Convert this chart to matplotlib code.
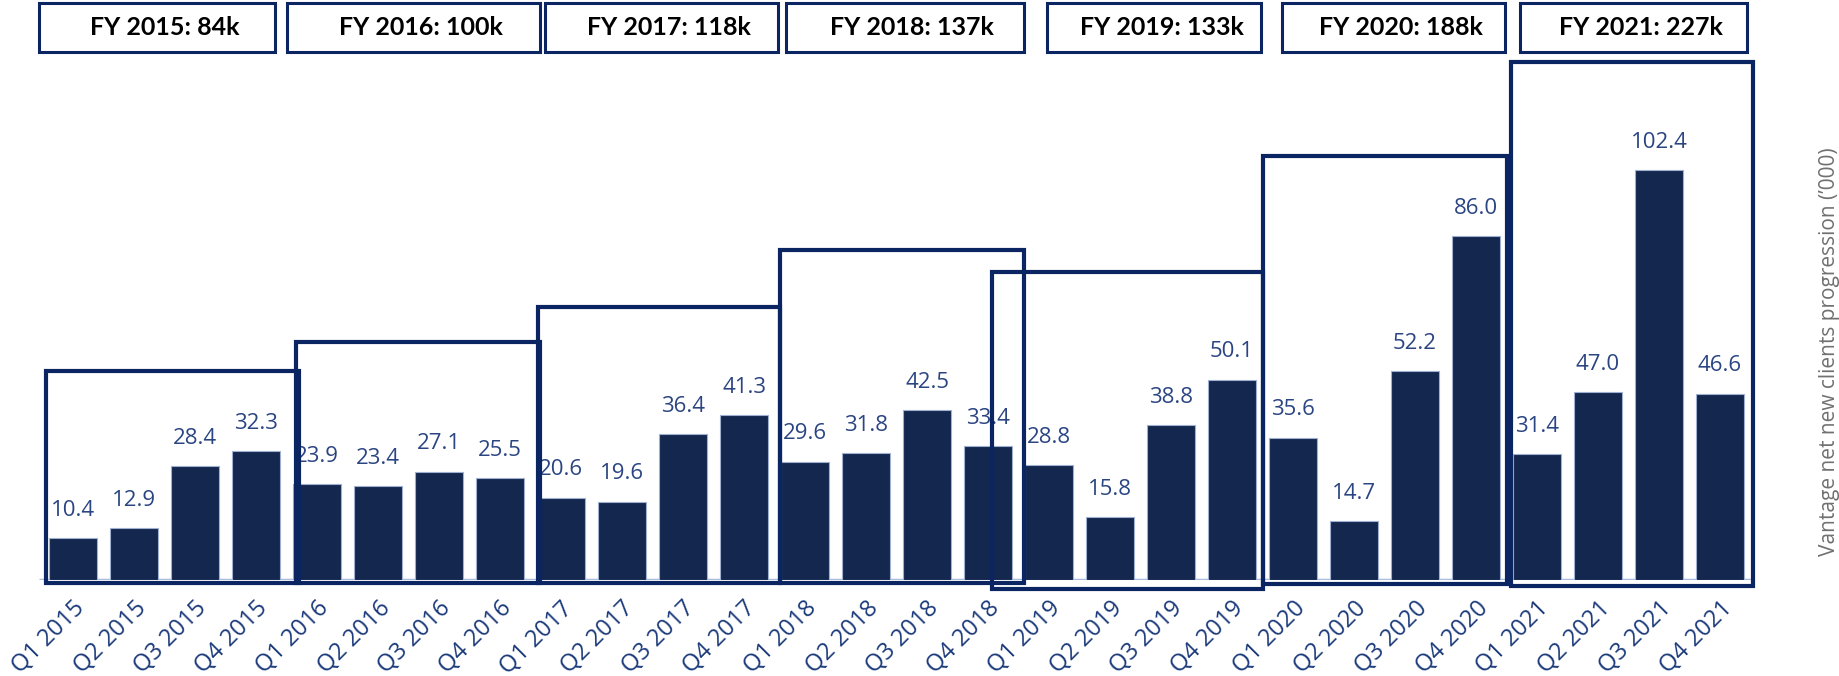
import matplotlib.pyplot as plt
from matplotlib.patches import Rectangle

plt.rcParams['font.family'] = ['Open Sans', 'DejaVu Sans']

quarters = ['Q1 2015', 'Q2 2015', 'Q3 2015', 'Q4 2015',
            'Q1 2016', 'Q2 2016', 'Q3 2016', 'Q4 2016',
            'Q1 2017', 'Q2 2017', 'Q3 2017', 'Q4 2017',
            'Q1 2018', 'Q2 2018', 'Q3 2018', 'Q4 2018',
            'Q1 2019', 'Q2 2019', 'Q3 2019', 'Q4 2019',
            'Q1 2020', 'Q2 2020', 'Q3 2020', 'Q4 2020',
            'Q1 2021', 'Q2 2021', 'Q3 2021', 'Q4 2021']
values = [10.4, 12.9, 28.4, 32.3,
          23.9, 23.4, 27.1, 25.5,
          20.6, 19.6, 36.4, 41.3,
          29.6, 31.8, 42.5, 33.4,
          28.8, 15.8, 38.8, 50.1,
          35.6, 14.7, 52.2, 86.0,
          31.4, 47.0, 102.4, 46.6]
year_titles = ['FY 2015: 84k', 'FY 2016: 100k', 'FY 2017: 118k', 'FY 2018: 137k',
               'FY 2019: 133k', 'FY 2020: 188k', 'FY 2021: 227k']

bar_color = '#13274f'
frame_color = '#0b2462'
label_color = '#2b4582'

fig = plt.figure(figsize=(18.39, 6.76), dpi=100)
ax = fig.add_axes([0, 96 / 676, 1, 580 / 676])

x = list(range(len(values)))
ax.bar(x, values, width=0.79, color=bar_color, edgecolor='#9fb0d0', linewidth=0.8, zorder=2)
ax.plot([-0.55, 27.55], [0, 0], color='#a8bde0', lw=2.5, zorder=1, solid_capstyle='butt')

for xi, v in zip(x, values):
    ax.annotate(f'{v:.1f}', (xi, v), xytext=(0, 20), textcoords='offset points',
                ha='center', va='center', fontsize=16, color=label_color, zorder=3)

# frames around each year (left, right, top, bottom)
frame_left = [-0.44, 3.66, 7.62, 11.59, 15.07, 19.5, 23.57]
frame_right = [3.70, 7.65, 11.59, 15.59, 19.5, 23.5, 27.54]
frame_top = [52.2, 59.5, 68.3, 82.6, 77.0, 106.0, 129.4]
frame_bottom = [-0.8, -0.8, -0.8, -0.8, -2.2, -0.9, -1.6]
for l, r, t, b in zip(frame_left, frame_right, frame_top, frame_bottom):
    ax.add_patch(Rectangle((l, b), r - l, t - b, fill=False, edgecolor=frame_color,
                           lw=3.0, zorder=4, clip_on=False, joinstyle='miter'))

# year title boxes
title_left = [-0.557, 3.51, 7.74, 11.69, 15.97, 19.82, 23.72]
title_right = [3.31, 7.66, 11.56, 15.59, 19.48, 23.48, 27.44]
for l, r, t in zip(title_left, title_right, year_titles):
    ax.add_patch(Rectangle((l, 132), r - l, 12.25, fill=False, edgecolor=frame_color,
                           lw=2.2, zorder=4, clip_on=False))
    ax.text((l + r) / 2 + 0.12, 138.1, t, ha='center', va='center', fontsize=18,
            fontweight='bold', color='black', family=['Lato', 'DejaVu Sans'])

ax.set_xticks(x)
ax.set_xticklabels(quarters, rotation=45, ha='right', va='top', rotation_mode='anchor',
                   fontsize=17, color='#1b3a7a')
ax.tick_params(axis='x', length=0, pad=12)
ax.set_yticks([])
for s in ax.spines.values():
    s.set_visible(False)

ax.set_xlim(-1.197, 28.95)
ax.set_ylim(0, 145)

fig.text(1829 / 1839, 1 - 352 / 676, "Vantage net new clients progression (\u2019000)",
         rotation=90, ha='center', va='center', fontsize=15, color='#707070')

fig.savefig('out.png', dpi=100)
